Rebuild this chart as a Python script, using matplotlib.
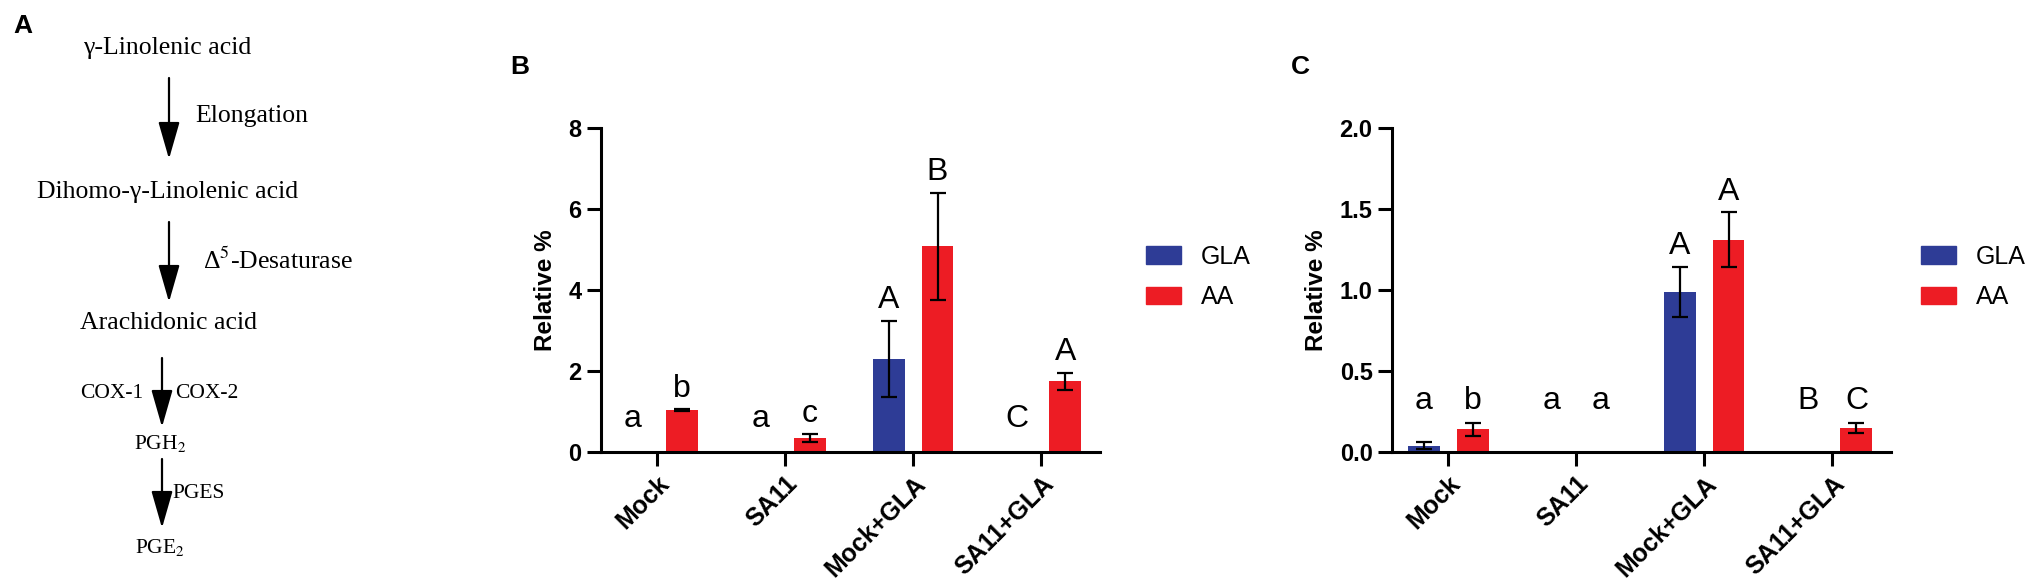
import numpy as np
import matplotlib
matplotlib.use('Agg')
import matplotlib.pyplot as plt
from matplotlib.patches import Patch

plt.rcParams['font.family'] = ['Liberation Sans', 'DejaVu Sans']
plt.rcParams['mathtext.fontset'] = 'stix'

# data
groups = ['Mock', 'SA11', 'Mock+GLA', 'SA11+GLA']
series = ['GLA', 'AA']

b_gla = [0.02, 0.0, 2.30, 0.0]
b_gla_err = [0.0, 0.0, 0.94, 0.0]
b_aa = [1.04, 0.34, 5.08, 1.75]
b_aa_err = [0.02, 0.10, 1.32, 0.21]
b_gla_letters = ['a', 'a', 'A', 'C']
b_aa_letters = ['b', 'c', 'B', 'A']

c_gla = [0.04, 0.0, 0.99, 0.0]
c_gla_err = [0.02, 0.0, 0.155, 0.0]
c_aa = [0.14, 0.0, 1.31, 0.15]
c_aa_err = [0.04, 0.0, 0.17, 0.03]
c_gla_letters = ['a', 'a', 'A', 'B']
c_aa_letters = ['b', 'a', 'A', 'C']

blue = '#2E3C96'
red = '#ED1C24'

fig = plt.figure(figsize=(20.33, 5.87), dpi=100)

# ---- panel A: pathway (pixel coordinates) ----
axa = fig.add_axes([0, 0, 1, 1])
axa.set_xlim(0, 2033)
axa.set_ylim(587, 0)
axa.axis('off')

serif = 'Liberation Serif'
axa.text(23, 26, 'A', fontsize=19, fontweight='bold', ha='center', va='center')
axa.text(167, 48, 'γ-Linolenic acid', family=serif, fontsize=18.5, ha='center', va='center')
axa.text(195, 116, 'Elongation', family=serif, fontsize=18.5, ha='left', va='center')
axa.text(168, 192, 'Dihomo-γ-Linolenic acid', family=serif, fontsize=18.5, ha='center', va='center')
axa.text(203, 261, 'Δ$^{5}$-Desaturase', family=serif, fontsize=18.5, ha='left', va='center')
axa.text(169, 323, 'Arachidonic acid', family=serif, fontsize=18.5, ha='center', va='center')
axa.text(143, 394, 'COX-1', family=serif, fontsize=15.5, ha='right', va='center')
axa.text(175, 394, 'COX-2', family=serif, fontsize=15.5, ha='left', va='center')
axa.text(160, 444, 'PGH$_{2}$', family=serif, fontsize=15.5, ha='center', va='center')
axa.text(172, 494, 'PGES', family=serif, fontsize=15.5, ha='left', va='center')
axa.text(160, 547, 'PGE$_{2}$', family=serif, fontsize=15.5, ha='center', va='center')

arrows = [(169, 78, 159), (169, 222, 302), (162, 358, 427), (162, 459, 528)]
for ax_x, y0, y1 in arrows:
    axa.annotate('', xy=(ax_x, y1), xytext=(ax_x, y0),
                 arrowprops=dict(arrowstyle='-|>,head_length=1.15,head_width=0.33',
                                 mutation_scale=20, lw=1.6, color='black',
                                 shrinkA=0, shrinkB=0))


def bar_panel(rect, gla, gla_err, aa, aa_err, l_gla, l_aa, ymax, yticks, fmt,
              floor, legend_x):
    ax = fig.add_axes(rect)
    x = np.arange(len(groups))
    w = 0.25
    off = 0.19
    ax.bar(x - off, gla, w, color=blue, label='GLA', zorder=2)
    ax.bar(x + off, aa, w, color=red, label='AA', zorder=2)
    for xs, m, e in [(x - off, gla, gla_err), (x + off, aa, aa_err)]:
        for xi, mi, ei in zip(xs, m, e):
            if mi > 0 and ei > 0:
                ax.errorbar(xi, mi, yerr=ei, fmt='none', ecolor='black',
                            elinewidth=1.6, capsize=6, capthick=1.6, zorder=3)
    # significance letters above the error bars
    for xs, m, e, lab in [(x - off, gla, gla_err, l_gla), (x + off, aa, aa_err, l_aa)]:
        for xi, mi, ei, li in zip(xs, m, e, lab):
            top = max(mi + ei, floor)
            ax.annotate(li, (xi, top), xytext=(0, 4), textcoords='offset points',
                        ha='center', va='bottom', fontsize=23)
    ax.set_xlim(-0.44, 3.46)
    ax.set_ylim(0, ymax)
    ax.set_yticks(yticks)
    ax.set_yticklabels([fmt % t for t in yticks], fontsize=17, fontweight='bold')
    ax.set_xticks(x)
    ax.set_xticklabels(groups, rotation=45, ha='right', rotation_mode='anchor',
                       fontsize=18, fontweight='bold')
    ax.set_ylabel('Relative %', fontsize=17.5, fontweight='bold', labelpad=8)
    for s in ['top', 'right']:
        ax.spines[s].set_visible(False)
    for s in ['left', 'bottom']:
        ax.spines[s].set_linewidth(2.2)
    ax.tick_params(axis='both', width=2.2, length=10, pad=4)
    handles = [Patch(color=blue, label='GLA'), Patch(color=red, label='AA')]
    ax.legend(handles=handles, loc='center left', bbox_to_anchor=(legend_x, 0.54),
              frameon=False, fontsize=18, handlelength=1.4, handleheight=0.7,
              handletextpad=0.8, labelspacing=0.65, borderpad=0, borderaxespad=0)
    return ax


bottom = (587 - 452) / 587
height = 324 / 587
width = 499 / 2033

bar_panel([601 / 2033, bottom, width, height], b_gla, b_gla_err, b_aa, b_aa_err,
          b_gla_letters, b_aa_letters, 8, [0, 2, 4, 6, 8], '%d', 0.3, 1.092)
bar_panel([1392 / 2033, bottom, width, height], c_gla, c_gla_err, c_aa, c_aa_err,
          c_gla_letters, c_aa_letters, 2.0, [0.0, 0.5, 1.0, 1.5, 2.0], '%.1f', 0.19, 1.06)

fig.text(520 / 2033, 1 - 67 / 587, 'B', fontsize=19, fontweight='bold', ha='center', va='center')
fig.text(1300 / 2033, 1 - 67 / 587, 'C', fontsize=19, fontweight='bold', ha='center', va='center')

fig.savefig('out.png', dpi=100)
